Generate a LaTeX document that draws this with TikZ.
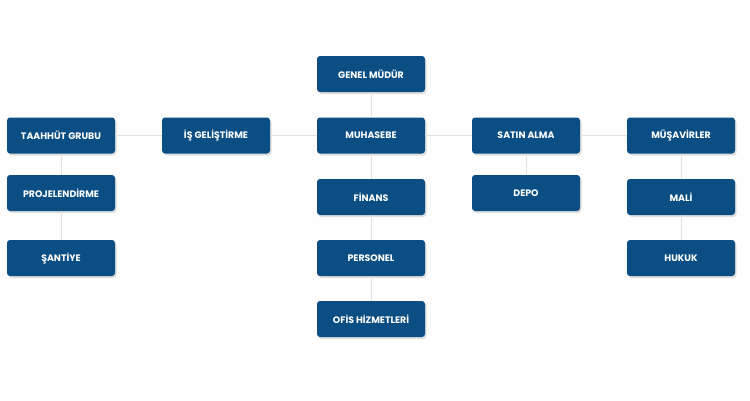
\documentclass[tikz,border=0pt]{standalone}
\usepackage{fontspec}
\setmainfont{Poppins}[BoldFont={Poppins Bold}]
\usepackage{tikz}
\usetikzlibrary{positioning, shadows}
\definecolor{orgblue}{RGB}{11, 78, 132}
\definecolor{orgline}{RGB}{226, 226, 226}
\definecolor{orgback}{RGB}{254, 254, 254}

\begin{document}
\begin{tikzpicture}[x=1pt, y=-1pt,
        unit/.style={rectangle, fill=orgblue, text=white, minimum width=108pt, minimum height=36pt, rounded corners=3pt, font=\fontsize{9.4}{11}\selectfont\bfseries, drop shadow={shadow xshift=1.5pt, shadow yshift=-2pt, fill=black, opacity=0.12}},
        link/.style={draw=orgline, line width=0.8pt}]

        % Canvas
        \fill [orgback] (0,0) rectangle (750,400);
        \useasboundingbox (0,0) rectangle (750,400);

        % Top
        \node [unit] (gm) at (371,74) {GENEL MÜDÜR};

        % Row of departments
        \node [unit] (taahhut) at (61,135.5) {TAAHHÜT GRUBU};
        \node [unit] (isgel) at (216,135.5) {İŞ GELİŞTİRME};
        \node [unit] (muhasebe) at (371,135.5) {MUHASEBE};
        \node [unit] (satin) at (526,135.5) {SATIN ALMA};
        \node [unit] (musavir) at (681,135.5) {MÜŞAVİRLER};

        % Sub units
        \node [unit] (proje) at (61,193) {PROJELENDİRME};
        \node [unit] (santiye) at (61,258) {ŞANTİYE};
        \node [unit] (finans) at (371,197) {FİNANS};
        \node [unit] (personel) at (371,258) {PERSONEL};
        \node [unit] (ofis) at (371,319) {OFİS HİZMETLERİ};
        \node [unit] (depo) at (526,193) {DEPO};
        \node [unit] (mali) at (681,197) {MALİ};
        \node [unit] (hukuk) at (681,258) {HUKUK};

        % Links
        \path [link] (gm) -- (muhasebe);
        \path [link] (taahhut) -- (isgel);
        \path [link] (isgel) -- (muhasebe);
        \path [link] (muhasebe) -- (satin);
        \path [link] (satin) -- (musavir);
        \path [link] (taahhut) -- (proje);
        \path [link] (proje) -- (santiye);
        \path [link] (muhasebe) -- (finans);
        \path [link] (finans) -- (personel);
        \path [link] (personel) -- (ofis);
        \path [link] (satin) -- (depo);
        \path [link] (musavir) -- (mali);
        \path [link] (mali) -- (hukuk);
    \end{tikzpicture}
\end{document}
